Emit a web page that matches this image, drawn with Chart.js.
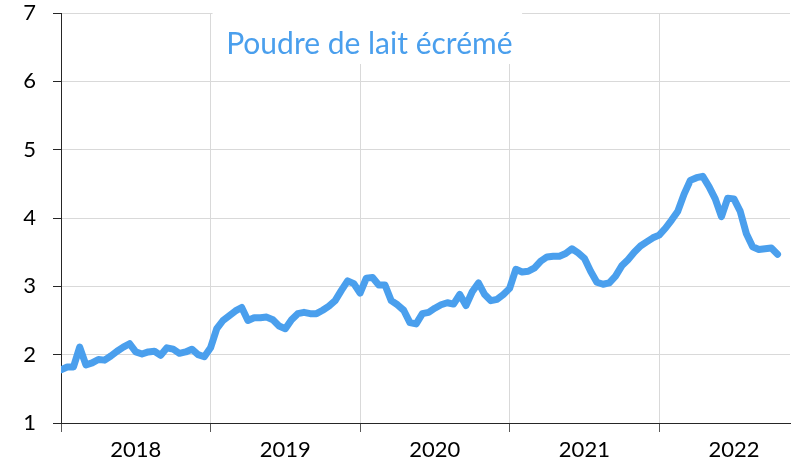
<!DOCTYPE html>
<html>
<head>
<meta charset="utf-8">
<script src="https://cdn.jsdelivr.net/npm/chart.js@4"></script>
<style>
  body { margin: 0; background: #fff; }
  #wrap { width: 792px; height: 472px; }
</style>
</head>
<body>
<div id="wrap"><canvas id="prixChart" width="792" height="472"></canvas></div>
<script>
// semi-monthly prices, Jan 2018 -> Oct 2022
var years = ['2018', '2019', '2020', '2021', '2022'];
var periodsPerYear = 24;
var chartTitle = 'Poudre de lait écrémé';
var yMin = 1, yMax = 7;

var values2018 = [1.78, 1.82, 1.82, 2.11, 1.85, 1.88, 1.93, 1.92, 1.98, 2.05, 2.11, 2.16,
                  2.04, 2.01, 2.04, 2.05, 1.99, 2.10, 2.08, 2.02, 2.04, 2.08, 2.00, 1.97];
var values2019 = [2.10, 2.38, 2.50, 2.57, 2.64, 2.69, 2.50, 2.54, 2.54, 2.55, 2.51, 2.42,
                  2.38, 2.51, 2.60, 2.62, 2.60, 2.60, 2.65, 2.71, 2.79, 2.94, 3.08, 3.04];
var values2020 = [2.90, 3.12, 3.13, 3.02, 3.02, 2.79, 2.73, 2.65, 2.47, 2.45, 2.60, 2.62,
                  2.68, 2.73, 2.76, 2.74, 2.88, 2.72, 2.92, 3.05, 2.88, 2.79, 2.81, 2.88];
var values2021 = [2.97, 3.25, 3.21, 3.22, 3.27, 3.37, 3.43, 3.44, 3.44, 3.48, 3.55, 3.49,
                  3.41, 3.22, 3.06, 3.03, 3.05, 3.15, 3.30, 3.39, 3.50, 3.59, 3.65, 3.71];
var values2022 = [3.75, 3.85, 3.97, 4.10, 4.35, 4.55, 4.59, 4.61, 4.46, 4.28, 4.02, 4.29,
                  4.28, 4.10, 3.77, 3.58, 3.54, 3.55, 3.56, 3.47];

var values = values2018.concat(values2019, values2020, values2021, values2022);
var xMax = 117;

var lineColor = 'rgb(74, 159, 237)';
var gridColor = '#d9d9d9';
var axisColor = '#262626';
var fontFamily = 'Lato, "Noto Sans", sans-serif';

var points = values.map(function (v, i) { return { x: i, y: v }; });

// white box with the title, drawn over the grid like in the spreadsheet
var titleBox = {
  id: 'titleBox',
  beforeDatasetsDraw: function (chart) {
    var ctx = chart.ctx;
    var xs = chart.scales.x;
    var ys = chart.scales.y;
    var left = xs.getPixelForValue(periodsPerYear) + 2;
    var right = xs.getPixelForValue(periodsPerYear * 2) + 162;
    var top = ys.getPixelForValue(yMax) - 1;
    ctx.save();
    ctx.fillStyle = '#fff';
    ctx.fillRect(left, top, right - left, 52);
    ctx.fillStyle = lineColor;
    ctx.font = '30px ' + fontFamily;
    ctx.textAlign = 'center';
    ctx.textBaseline = 'middle';
    ctx.fillText(chartTitle, (left + right) / 2 + 2, top + 32);
    ctx.restore();
  }
};

var config = {
  type: 'line',
  data: {
    datasets: [{
      data: points,
      borderColor: lineColor,
      borderWidth: 7,
      pointRadius: 0,
      tension: 0,
      borderCapStyle: 'round',
      borderJoinStyle: 'round',
      fill: false
    }]
  },
  options: {
    responsive: false,
    animation: false,
    layout: { padding: { top: 13, right: 2, bottom: 0, left: 0 } },
    plugins: { legend: { display: false }, tooltip: { enabled: false }, title: { display: false } },
    scales: {
      x: {
        type: 'linear',
        min: 0,
        max: xMax,
        afterFit: function (s) { s.height = 49; s.paddingLeft = 0; s.paddingRight = 0; },
        afterBuildTicks: function (s) {
          var t = [];
          for (var k = 0; k <= years.length * 2; k++) {
            if (k * periodsPerYear / 2 <= xMax) t.push({ value: k * periodsPerYear / 2 });
          }
          s.ticks = t;
        },
        border: { color: axisColor, width: 1 },
        grid: {
          color: function (c) { return c.tick && c.tick.value % periodsPerYear === 0 ? gridColor : 'transparent'; },
          tickColor: function (c) { return c.tick && c.tick.value % periodsPerYear === 0 ? '#595959' : 'transparent'; },
          tickLength: 9,
          lineWidth: 1
        },
        ticks: {
          autoSkip: false,
          maxRotation: 0,
          padding: 5,
          color: '#000',
          font: { family: fontFamily, size: 22 },
          callback: function (v) {
            if (v % periodsPerYear === 0) return '';
            return years[Math.floor(v / periodsPerYear)] || '';
          }
        }
      },
      y: {
        min: yMin,
        max: yMax,
        afterFit: function (s) { s.width = 61; s.paddingTop = 0; s.paddingBottom = 0; },
        border: { color: axisColor, width: 1 },
        grid: { color: gridColor, tickColor: '#262626', tickLength: 8 },
        ticks: {
          stepSize: 1,
          padding: 17,
          color: '#000',
          font: { family: fontFamily, size: 22 }
        }
      }
    }
  },
  plugins: [titleBox]
};

var prixChart = new Chart(document.getElementById('prixChart').getContext('2d'), config);
</script>
</body>
</html>
